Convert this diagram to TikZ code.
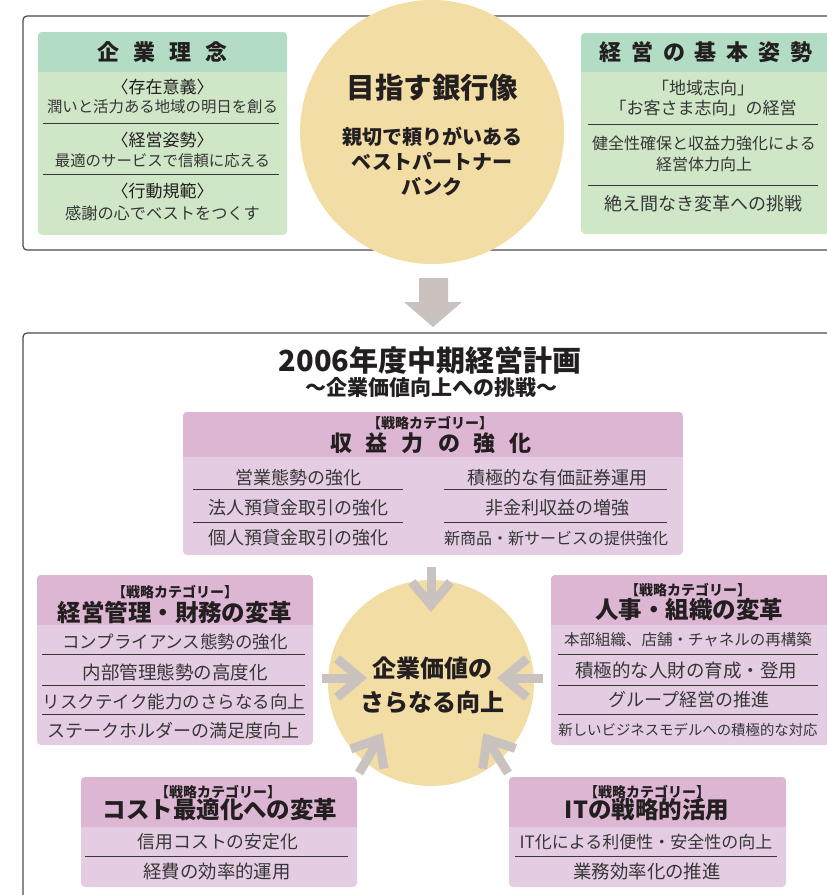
\documentclass[tikz,border=0pt]{standalone}
\usepackage{fontspec}
\setmainfont{Noto Sans CJK JP}
\usetikzlibrary{calc}
\definecolor{ghead}{HTML}{B3DCC5}
\definecolor{gbody}{HTML}{CFE6C7}
\definecolor{phead}{HTML}{DDB6D3}
\definecolor{pbody}{HTML}{E4CDE2}
\definecolor{circ}{HTML}{F2DDA4}
\definecolor{arr}{HTML}{C9C2BF}
\definecolor{ink}{HTML}{231F20}
\definecolor{bodyc}{HTML}{363636}
\definecolor{frame}{HTML}{4A4A4A}
\newcommand\fsz[1]{\fontsize{#1}{#1}\selectfont}
\newcommand\gap[1]{\hspace{#1pt}}
\begin{document}
\begin{tikzpicture}[x=1pt,y=-1pt,
  outer/.style={draw=frame,line width=1.2pt,rounded corners=4pt},
  gbox/.style={rectangle,rounded corners=4pt,fill=gbody,inner sep=0pt,
    path picture={\fill[ghead,sharp corners] (path picture bounding box.north west) rectangle ([yshift=-#1]path picture bounding box.north east);}},
  pbox/.style={rectangle,rounded corners=4pt,fill=pbody,inner sep=0pt,
    path picture={\fill[phead,sharp corners] (path picture bounding box.north west) rectangle ([yshift=-#1]path picture bounding box.north east);}},
  t/.style={inner sep=0pt,text=bodyc,font=\fsz{#1}},
  hd/.style={inner sep=0pt,text=ink,font=\fsz{#1}\bfseries},
  sepl/.style={draw=bodyc,line width=0.9pt},
  chev/.style={draw=arr,line width=9pt,line join=miter,line cap=butt}]
\useasboundingbox (0,0) rectangle (827,895);

% ---------- top section ----------
\draw[outer] (23,16) rectangle (850,250);
\node[gbox=40pt,minimum width=249pt,minimum height=203pt] (gl) at (162.5,133.5) {};
\node[gbox=39pt,minimum width=264pt,minimum height=201pt] (gr) at (713,133.5) {};

\node[hd=22] (glh) at (162.5,52) {企\gap{14}業\gap{14}理\gap{14}念};
\node[t=17,text=ink] (g1a) at (162.5,87) {〈存在意義〉};
\node[t=15.4] (g1b) at (162.5,107) {潤いと活力ある地域の明日を創る};
\node[t=17,text=ink] (g1c) at (162.5,140) {〈経営姿勢〉};
\node[t=15.4] (g1d) at (162.5,161) {最適のサービスで信頼に応える};
\node[t=17,text=ink] (g1e) at (162.5,191) {〈行動規範〉};
\node[t=16.2] (g1f) at (162.5,213) {感謝の心でベストをつくす};
\draw[sepl] (43,123) -- (279,123);
\draw[sepl] (43,174) -- (279,174);

\node[hd=22] (grh) at (706,52) {経\gap{9.7}営\gap{9.7}の\gap{9.7}基\gap{9.7}本\gap{9.7}姿\gap{9.7}勢};
\node[t=17] (g2a) at (703,88) {「地域志向」};
\node[t=17] (g2b) at (703,108) {「お客さま志向」の経営};
\node[t=16] (g2c) at (704,143) {健全性確保と収益力強化による};
\node[t=16] (g2d) at (704,164) {経営体力向上};
\node[t=18] (g2e) at (703,204) {絶え間なき変革への挑戦};
\draw[sepl] (588,124) -- (818,124);
\draw[sepl] (588,185) -- (818,185);

\node[circle,fill=circ,minimum size=264pt,inner sep=0pt] (vc) at (432,132) {};
\node[hd=28.5] (vt) at (432,88) {目指す銀行像};
\node[hd=20] (v1) at (432,137) {親切で頼りがいある};
\node[hd=20] (v2) at (432,162) {ベストパートナー};
\node[hd=20] (v3) at (432,187) {バンク};

% big arrow
\fill[arr] (419,278) -- (448,278) -- (448,302) -- (462,302) -- (433,327) -- (404,302) -- (419,302) -- cycle;

% ---------- bottom section ----------
\draw[outer] (23,333) rectangle (850,910);
\node[hd=29] (title) at (430,360) {2006年度中期経営計画};
\node[hd=21] (subt) at (431,387) {～企業価値向上への挑戦～};

% top pink
\node[pbox=45pt,minimum width=500pt,minimum height=143pt] (pt) at (433,483.5) {};
\node[hd=14] (pta) at (430,423) {【戦略カテゴリー】};
\node[hd=22] (ptb) at (431,443) {収\gap{14}益\gap{14}力\gap{14}の\gap{14}強\gap{14}化};
\node[t=18] (pt1) at (298,478) {営業態勢の強化};
\node[t=18] (pt2) at (298,508) {法人預貸金取引の強化};
\node[t=18] (pt3) at (298,538) {個人預貸金取引の強化};
\node[t=18] (pt4) at (557,478) {積極的な有価証券運用};
\node[t=18] (pt5) at (557,508) {非金利収益の増強};
\node[t=16] (pt6) at (556,538) {新商品・新サービスの提供強化};
\draw[sepl] (193,489) -- (403,489);
\draw[sepl] (193,522) -- (403,522);
\draw[sepl] (444,489) -- (667,489);
\draw[sepl] (444,522) -- (667,522);

% center circle
\node[circle,fill=circ,minimum size=206pt,inner sep=0pt] (cc) at (431,683) {};
\node[hd=24,align=center,font=\fontsize{24}{34}\selectfont\bfseries] (cct) at (432,685) {企業価値の\\さらなる向上};

% left pink
\node[pbox=50pt,minimum width=276pt,minimum height=170pt] (pl) at (175,660) {};
\node[hd=14] (pla) at (175,592) {【戦略カテゴリー】};
\node[hd=23.5] (plb) at (175,612) {経営管理・財務の変革};
\node[t=17.5] (pl1) at (175,642) {コンプライアンス態勢の強化};
\node[t=18.5] (pl2) at (175,672) {内部管理態勢の高度化};
\node[t=17.5] (pl3) at (174,702) {リスクテイク能力のさらなる向上};
\node[t=18] (pl4) at (173,731) {ステークホルダーの満足度向上};
\draw[sepl] (42,654) -- (305,654);
\draw[sepl] (42,685) -- (305,685);
\draw[sepl] (42,714) -- (305,714);

% right pink
\node[pbox=50pt,minimum width=284pt,minimum height=170pt] (pr) at (693,660) {};
\node[hd=14] (pra) at (688,590) {【戦略カテゴリー】};
\node[hd=23.5] (prb) at (689,610) {人事・組織の変革};
\node[t=15.5] (pr1) at (688,640) {本部組織、店舗・チャネルの再構築};
\node[t=18.5] (pr2) at (686,670) {積極的な人財の育成・登用};
\node[t=18] (pr3) at (689,700) {グループ経営の推進};
\node[t=14.4] (pr4) at (688,730) {新しいビジネスモデルへの積極的な対応};
\draw[sepl] (558,654) -- (818,654);
\draw[sepl] (558,685) -- (818,685);
\draw[sepl] (558,714) -- (818,714);

% bottom-left pink
\node[pbox=50pt,minimum width=276pt,minimum height=110pt] (pbl) at (219,832) {};
\node[hd=14] (pbla) at (218,792) {【戦略カテゴリー】};
\node[hd=23.5] (pblb) at (220,810) {コスト最適化への変革};
\node[t=17.8] (pbl1) at (218,842) {信用コストの安定化};
\node[t=18.4] (pbl2) at (217,872) {経費の効率的運用};
\draw[sepl] (85,856) -- (348,856);

% bottom-right pink
\node[pbox=50pt,minimum width=277pt,minimum height=110pt] (pbr) at (647.5,832) {};
\node[hd=14] (pbra) at (647,792) {【戦略カテゴリー】};
\node[hd=23.5] (pbrb) at (647,810) {ITの戦略的活用};
\node[t=17] (pbr1) at (646,842) {IT化による利便性・安全性の向上};
\node[t=18.4] (pbr2) at (647,872) {業務効率化の推進};
\draw[sepl] (515,856) -- (777,856);

% chevron arrows into the centre circle
\coordinate (aT1) at (431,567); \coordinate (aT2) at (431,605);
\coordinate (aL1) at (322,678); \coordinate (aL2) at (360,678);
\coordinate (aR1) at (543,678); \coordinate (aR2) at (504,678);
\coordinate (aB1) at (359,773); \coordinate (aB2) at (379,739);
\coordinate (aC1) at (508,773); \coordinate (aC2) at (487,739);
\foreach \s/\e in {aT1/aT2,aL1/aL2,aR1/aR2,aB1/aB2,aC1/aC2}{
  \draw[chev] (\s) -- (\e);
  \draw[chev] ($(\e)!30pt!40:(\s)$) -- (\e) -- ($(\e)!30pt!-40:(\s)$);
}
\end{tikzpicture}
\end{document}
